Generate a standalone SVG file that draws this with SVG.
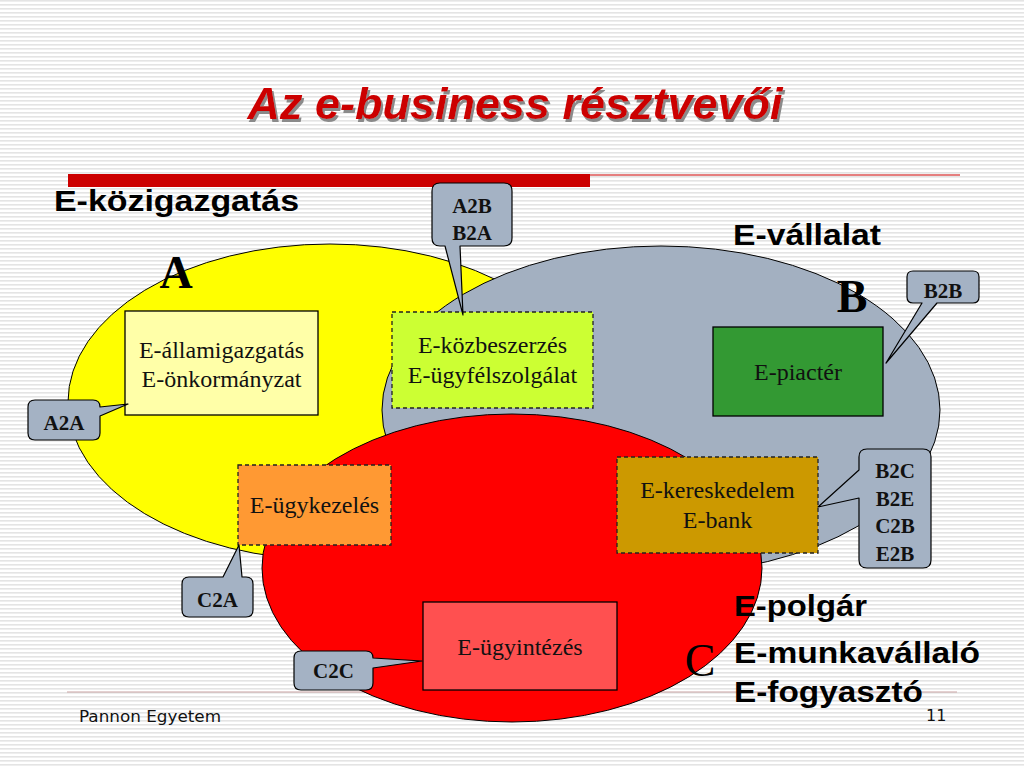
<svg xmlns="http://www.w3.org/2000/svg" width="1024" height="768" viewBox="0 0 1024 768">
<defs>
<pattern id="stripes" width="8" height="4" patternUnits="userSpaceOnUse">
<rect width="8" height="4" fill="#ffffff"/>
<rect width="8" height="1.6" fill="#e4e4e4"/>
</pattern>
<filter id="shadow" x="-5%" y="-20%" width="110%" height="150%">
<feOffset in="SourceAlpha" dx="2" dy="3" result="off"/>
<feFlood flood-color="#8a8a8a"/>
<feComposite in2="off" operator="in" result="sh"/>
<feMerge><feMergeNode in="sh"/><feMergeNode in="SourceGraphic"/></feMerge>
</filter>
<style>
.ell{stroke:#000;stroke-width:1}
.box{stroke:#000;stroke-width:1.3}
.dash{stroke:#222;stroke-width:1.3;stroke-dasharray:4 3}
.nt{font-family:"Liberation Serif","Times New Roman",serif;font-size:24px;fill:#111;text-anchor:middle}
.co{fill:#a4b2c4;stroke:#000;stroke-width:1.2;stroke-linejoin:round}
.ct{font-family:"Liberation Serif","Times New Roman",serif;font-size:21px;font-weight:bold;fill:#111;text-anchor:middle}
.big{font-family:"Liberation Serif","Times New Roman",serif;font-size:46px;fill:#000;text-anchor:middle}
.hd{font-family:"Liberation Sans",Arial,sans-serif;font-size:30px;font-weight:bold;fill:#000}
.ttl{font-family:"Liberation Sans",Arial,sans-serif;font-size:45px;font-weight:bold;font-style:italic;text-anchor:middle;fill:#cc0000}
.ft{font-family:"DejaVu Sans",Verdana,sans-serif;font-size:16px;fill:#111}
</style>
</defs>
<rect width="1024" height="768" fill="url(#stripes)"/>

<g id="title">
<text class="ttl" x="515" y="119" filter="url(#shadow)">Az e-business résztvevői</text>
</g>
<g id="rules">
<rect x="68" y="174" width="522" height="13" fill="#cc0000"/>
<line x1="590" y1="175" x2="960" y2="175" stroke="#cc0000" stroke-width="1"/>
<line x1="67" y1="692" x2="957" y2="692" stroke="#c9a3a3" stroke-width="1"/>
</g>

<g id="ellipse-A"><ellipse class="ell" cx="330" cy="402" rx="262" ry="158" fill="#ffff00"/></g>
<g id="ellipse-B"><ellipse class="ell" cx="661" cy="410" rx="279" ry="164" fill="#a3b0c1"/></g>
<g id="ellipse-C"><ellipse class="ell" cx="512" cy="568" rx="250" ry="154" fill="#ff0000"/></g>

<g id="node-allamigazgatas">
<rect class="box" x="125" y="311" width="193" height="104" fill="#ffffa8"/>
<text class="nt" x="221.5" y="358">E-államigazgatás</text>
<text class="nt" x="221.5" y="387">E-önkormányzat</text>
</g>
<g id="node-kozbeszerzes">
<rect class="dash" x="392" y="312" width="201" height="96" fill="#ccff33"/>
<text class="nt" x="492.5" y="353">E-közbeszerzés</text>
<text class="nt" x="492.5" y="383">E-ügyfélszolgálat</text>
</g>
<g id="node-piacter">
<rect class="box" x="713" y="327" width="170" height="89" fill="#339933"/>
<text class="nt" x="798" y="380">E-piactér</text>
</g>
<g id="node-kereskedelem">
<rect class="dash" x="617" y="457" width="201" height="96" fill="#cc9900"/>
<text class="nt" x="717.5" y="498">E-kereskedelem</text>
<text class="nt" x="717.5" y="528">E-bank</text>
</g>
<g id="node-ugykezeles">
<rect class="dash" x="238" y="465" width="153" height="80" fill="#ff9933"/>
<text class="nt" x="314.5" y="513">E-ügykezelés</text>
</g>
<g id="node-ugyintezes">
<rect class="box" x="423" y="602" width="194" height="88" fill="#ff5050"/>
<text class="nt" x="520" y="655">E-ügyintézés</text>
</g>

<g id="connectors">
<g id="callout-A2B">
<path class="co" d="M440,183 H504 Q512,183 512,191 V238 Q512,246 504,246 H460 L463,315 L445,246 H440 Q432,246 432,238 V191 Q432,183 440,183 Z"/>
<text class="ct" x="472" y="213">A2B</text>
<text class="ct" x="472" y="240">B2A</text>
</g>
<g id="callout-B2B">
<path class="co" d="M913,271 H973 Q979,271 979,277 V297 Q979,303 973,303 H937 L886,363 L922,303 H913 Q907,303 907,297 V277 Q907,271 913,271 Z"/>
<text class="ct" x="943" y="298">B2B</text>
</g>
<g id="callout-B2C">
<path class="co" d="M867,449 H923 Q931,449 931,457 V560 Q931,568 923,568 H867 Q859,568 859,560 V498 L818,507 L859,470 V457 Q859,449 867,449 Z"/>
<text class="ct" x="895" y="478">B2C</text>
<text class="ct" x="895" y="506">B2E</text>
<text class="ct" x="895" y="533">C2B</text>
<text class="ct" x="895" y="561">E2B</text>
</g>
<g id="callout-A2A">
<path class="co" d="M35,400 H93 Q100,400 100,407 L128,404 L100,416 V433 Q100,440 93,440 H35 Q28,440 28,433 V407 Q28,400 35,400 Z"/>
<text class="ct" x="64" y="430">A2A</text>
</g>
<g id="callout-C2A">
<path class="co" d="M189,577 H223 L239,545 L242,577 H246 Q253,577 253,584 V610 Q253,617 246,617 H189 Q182,617 182,610 V584 Q182,577 189,577 Z"/>
<text class="ct" x="217.5" y="607">C2A</text>
</g>
<g id="callout-C2C">
<path class="co" d="M301,651 H366 Q373,651 373,658 L422,661 L373,668 V683 Q373,690 366,690 H301 Q294,690 294,683 V658 Q294,651 301,651 Z"/>
<text class="ct" x="333.5" y="678">C2C</text>
</g>
</g>

<g id="letters">
<text class="big" x="176" y="288" font-weight="bold">A</text>
<text class="big" x="852" y="312" font-weight="bold">B</text>
<text class="big" x="700" y="676">C</text>
</g>

<g id="headings">
<text class="hd" x="54" y="211" textLength="245" lengthAdjust="spacingAndGlyphs">E-közigazgatás</text>
<text class="hd" x="733" y="245" textLength="148" lengthAdjust="spacingAndGlyphs">E-vállalat</text>
<text class="hd" x="734" y="616" textLength="133" lengthAdjust="spacingAndGlyphs">E-polgár</text>
<text class="hd" x="734" y="663" textLength="246" lengthAdjust="spacingAndGlyphs">E-munkavállaló</text>
<text class="hd" x="734" y="702" textLength="189" lengthAdjust="spacingAndGlyphs">E-fogyasztó</text>
</g>

<g id="footer">
<text class="ft" x="79" y="722" textLength="142" lengthAdjust="spacingAndGlyphs">Pannon Egyetem</text>
<text class="ft" x="926" y="721" font-size="15">11</text>
</g>
</svg>
